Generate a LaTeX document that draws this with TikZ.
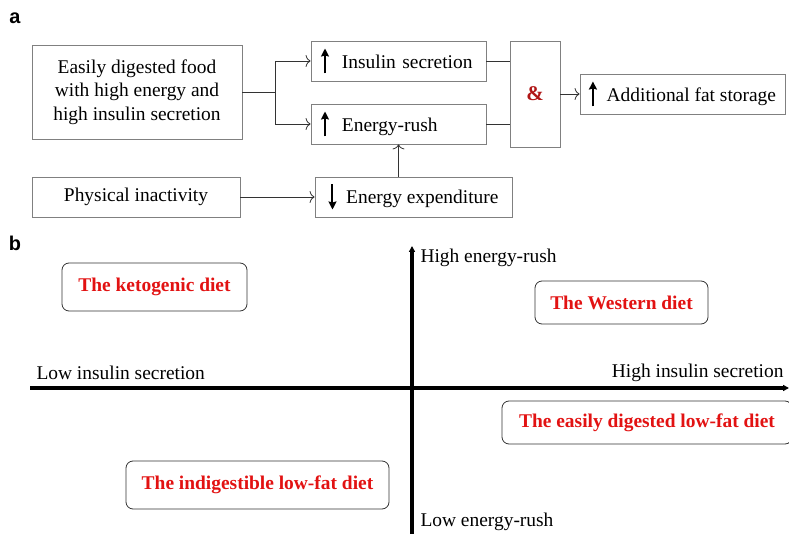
\documentclass[tikz,border=0pt]{standalone}
\usepackage{fontspec}
\setmainfont{Liberation Serif}
\newfontfamily\panelfont{Liberation Sans}
\usetikzlibrary{arrows.meta}
\definecolor{dietred}{RGB}{226,18,18}
\definecolor{andred}{RGB}{176,22,22}
\newcommand{\uparr}{\tikz[baseline=0pt]\draw[line width=2bp,-{Stealth[length=8bp,width=8bp,inset=1bp]}] (0pt,-5bp) -- (0pt,20bp);}
\newcommand{\downarr}{\tikz[baseline=0pt]\draw[line width=2bp,-{Stealth[length=8bp,width=8bp,inset=1bp]}] (0pt,19bp) -- (0pt,-6bp);}

\begin{document}
\begin{tikzpicture}[x=1bp, y=-1bp,
        box/.style  = {draw=gray, line width=0.8bp, inner sep=0pt,
                       minimum height=40bp, align=center},
        diet/.style = {draw=black!80, line width=0.8bp, rounded corners=7bp,
                       inner sep=0pt, text=dietred, font=\fontsize{19.5}{23}\selectfont\bfseries},
        con/.style  = {draw=black!80, line width=0.8bp, >={To[length=5bp,width=12bp]}},
        axis/.style = {line width=3.5bp, -{Triangle[length=6bp,width=6bp]}},
        panel/.style = {font=\panelfont\fontsize{20}{20}\selectfont\bfseries},
          font = \fontsize{19.5}{23.5}\selectfont
                                ]
    \useasboundingbox (0,0) rectangle (789,534);
    % panel a
    \node[panel] (la) at (15,18) {a};
    \node[box, minimum width=210bp, minimum height=94bp] (food) at (137,92)
        {Easily digested food\\ with high energy and\\ high insulin secretion};
    \node[box, text width=155bp, inner xsep=10bp, align=left] (ins) at (398.5,61)
        {\uparr\ \ Insulin secretion};
    \node[box, text width=155bp, inner xsep=10bp, align=left] (rush) at (398.5,124)
        {\uparr\ \ Energy-rush};
    \node[box, minimum width=50bp, minimum height=106bp,
          text=andred, font=\fontsize{21}{23}\selectfont\bfseries] (and) at (535,94) {\&};
    \node[box, minimum width=205bp] (fat) at (682.5,94) {\uparr\ \ Additional fat storage};
    \node[box, minimum width=208bp] (inact) at (136,197) {Physical inactivity};
    \node[box, minimum width=197bp] (expend) at (413.5,197) {\downarr\ \ Energy expenditure};

    \coordinate (split) at (275,92);
    \draw[con] (food.east) -- (split);
    \draw[con,->] (split) |- (ins.west);
    \draw[con,->] (split) |- (rush.west);
    \draw[con] (ins.east) -- (ins.east -| and.west);
    \draw[con] (rush.east) -- (rush.east -| and.west);
    \draw[con,->] (and.east) -- (fat.west);
    \draw[con,->] (inact.east) -- (expend.west);
    \draw[con,->] (rush.south |- expend.north) -- (rush.south);

    % panel b
    \node[panel] (lb) at (15,243) {b};
    \coordinate (ybot) at (412,534);
    \coordinate (ytop) at (412,246);
    \coordinate (xleft) at (30,388);
    \coordinate (xright) at (789,388);
    \draw[axis] (ybot) -- (ytop);
    \draw[axis] (xleft) -- (xright);

    \node[anchor=west] (hrush) at (417,258) {High energy-rush};
    \node[anchor=west] (lrush) at (417,522) {Low energy-rush};
    \node[anchor=west] (lins) at (33,373) {Low insulin secretion};
    \node[anchor=east] (hins) at (787,373) {High insulin secretion};

    \node[diet, minimum width=185bp, minimum height=48bp] (keto) at (154.5,287) {The ketogenic diet};
    \node[diet, minimum width=173bp, minimum height=43bp] (west) at (621.5,302.5) {The Western diet};
    \node[diet, minimum width=290bp, minimum height=43bp] (easy) at (647,422.5) {The easily digested low-fat diet};
    \node[diet, minimum width=263bp, minimum height=48bp] (indig) at (257.5,485) {The indigestible low-fat diet};
\end{tikzpicture}
\end{document}
